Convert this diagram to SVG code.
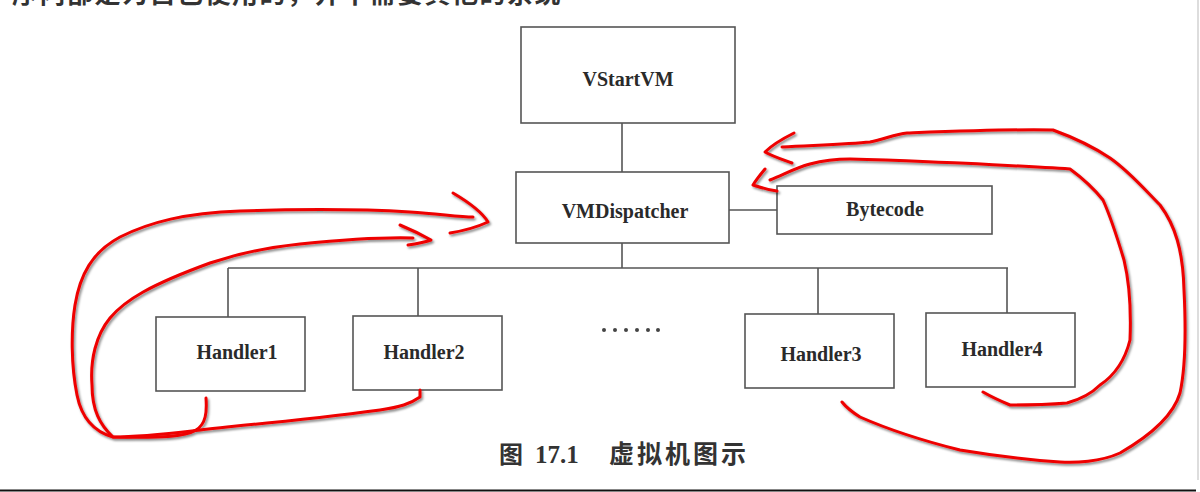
<svg xmlns="http://www.w3.org/2000/svg" width="1200" height="492" viewBox="0 0 1200 492">
<style>
.box{fill:#fff;stroke:#555;stroke-width:1.6}
.lbl{font-family:"Liberation Serif","Times New Roman",serif;font-weight:bold;font-size:20px;fill:#2a2a2a;text-anchor:middle;dominant-baseline:central}
.wire{stroke:#555;stroke-width:1.6;fill:none}
.red{stroke:#ee0000;stroke-width:3;fill:none;stroke-linecap:round;stroke-linejoin:round}
.cjk{font-family:"Noto Sans CJK SC","Noto Sans CJK JP",sans-serif;font-weight:bold;fill:#333}
</style>
<defs>
<filter id="sh" x="-10%" y="-10%" width="120%" height="130%">
<feDropShadow dx="1.5" dy="2" stdDeviation="1" flood-color="#000" flood-opacity="0.45"/>
</filter>
</defs>
<rect width="1200" height="492" fill="#fff"/>
<text class="cjk" x="12" y="3" font-size="26" letter-spacing="1.5">序内部是为自己使用的，并不需要其他的系统</text>

<g id="connectors">
<line class="wire" x1="622" y1="123" x2="622" y2="172"/>
<line class="wire" x1="729" y1="210" x2="777" y2="210"/>
<line class="wire" x1="622" y1="243" x2="622" y2="268"/>
<line class="wire" x1="228" y1="268" x2="1008" y2="268"/>
<line class="wire" x1="228" y1="268" x2="228" y2="317"/>
<line class="wire" x1="418" y1="268" x2="418" y2="316"/>
<line class="wire" x1="818" y1="268" x2="818" y2="314"/>
<line class="wire" x1="1007" y1="268" x2="1007" y2="313"/>
</g>

<g id="vstartvm"><rect class="box" x="521" y="27" width="214" height="96"/><text class="lbl" x="628" y="79">VStartVM</text></g>
<g id="vmdispatcher"><rect class="box" x="516" y="172" width="213" height="71"/><text class="lbl" x="625" y="211">VMDispatcher</text></g>
<g id="bytecode"><rect class="box" x="777" y="186" width="215" height="48"/><text class="lbl" x="885" y="209">Bytecode</text></g>
<g id="handler1"><rect class="box" x="156" y="317" width="149" height="74"/><text class="lbl" x="237" y="352">Handler1</text></g>
<g id="handler2"><rect class="box" x="353" y="316" width="149" height="74"/><text class="lbl" x="424" y="352">Handler2</text></g>
<g id="handler3"><rect class="box" x="745" y="314" width="149" height="74"/><text class="lbl" x="821" y="354">Handler3</text></g>
<g id="handler4"><rect class="box" x="926" y="313" width="149" height="74"/><text class="lbl" x="1002" y="349">Handler4</text></g>

<g id="ellipsis" fill="#444">
<circle cx="604" cy="330" r="2"/><circle cx="615" cy="330" r="2"/><circle cx="626" cy="330" r="2"/><circle cx="637" cy="330" r="2"/><circle cx="648" cy="330" r="2"/><circle cx="658" cy="330" r="2"/>
</g>

<g id="annotations" filter="url(#sh)">
<path class="red" d="M206,398 C207,412 206,424 196,430 C185,437 160,438 113,437 C95,432 82,420 77,395 C71,365 71,330 75,305 C80,275 92,252 120,237 C150,222 185,213 240,211 C300,209 360,209 410,212 C440,214 460,217 473,217"/>
<path class="red" d="M453,193 C470,203 482,212 488,222 C475,228 462,231 450,233"/>
<path class="red" d="M420,390 L420,397 C410,404 400,407 380,410 C350,414 300,420 227,427 C180,432 150,437 113,437 C100,425 92,410 92,385 C90,360 96,335 110,318 C125,300 150,285 210,263 C240,253 270,247 300,244 C340,240 380,237 413,238"/>
<path class="red" d="M400,225 C412,230 422,235 431,240 C422,243 415,244 408,245"/>
<path class="red" d="M782,147 C820,145 850,144 870,142 C885,139 895,134 907,133 C960,131 1010,129 1053,130 C1075,138 1095,148 1110,158 C1130,172 1145,190 1160,205 C1175,225 1183,250 1184,290 C1186,330 1185,370 1180,393 C1175,410 1160,430 1120,453 C1100,462 1075,463 1060,462 C1030,460 990,455 960,450 C920,440 885,428 860,417 C852,412 846,407 842,402"/>
<path class="red" d="M794,133 C782,139 772,145 765,152 C774,157 784,160 792,163"/>
<path class="red" d="M770,180 C785,174 795,168 810,164 C825,160 835,159 850,159 C900,160 930,162 960,163 C1000,165 1040,167 1070,169 C1085,180 1095,190 1103,200 C1112,220 1118,240 1124,260 C1130,285 1131,315 1130,340 C1125,360 1115,375 1100,385 C1090,395 1078,400 1067,403 C1045,405 1025,405 1010,405 C998,400 990,396 983,392"/>
<path class="red" d="M765,169 C760,175 756,180 753,185 C762,188 770,190 777,191"/>
</g>

<g id="caption" class="cjk">
<text x="499" y="463" font-size="24">图</text>
<text x="535" y="463" font-family="Liberation Serif,serif" font-weight="bold" font-size="25" fill="#333">17.1</text>
<text x="609" y="463" font-size="25" letter-spacing="3">虚拟机图示</text>
</g>
<line x1="0" y1="490.5" x2="1196" y2="490.5" stroke="#111" stroke-width="2"/>
<line x1="1198" y1="0" x2="1198" y2="480" stroke="#bbb" stroke-width="1"/>
</svg>
